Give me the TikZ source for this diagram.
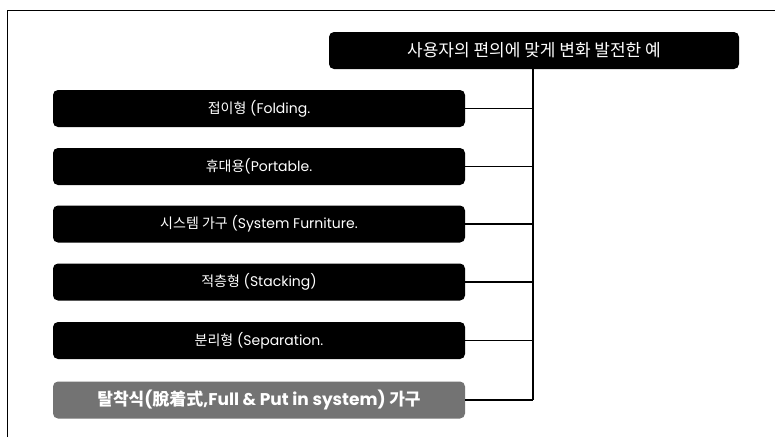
\documentclass[tikz,border=0pt]{standalone}
\usepackage{fontspec}
\setmainfont{Poppins}
\newfontfamily\kr{Noto Sans CJK KR}
\begin{document}
\begin{tikzpicture}[x=1pt,y=-1pt,
  catbox/.style={fill=black, rounded corners=5pt, minimum width=412pt, minimum height=37pt, inner sep=0pt, text=white, font=\fontsize{14}{17}\selectfont},
  topbox/.style={catbox, minimum width=410pt, font=\kr\fontsize{17}{20}\selectfont},
  greybox/.style={catbox, fill=black!55, font=\bfseries\fontsize{17}{20}\selectfont},
  link/.style={line width=1.8pt},
  trunk/.style={line width=2.6pt}]
\useasboundingbox (0,0) rectangle (775,437);
\fill[white] (0,0) rectangle (775,437);
\draw[line width=0.9pt] (7,437) -- (7,10) -- (775,10);
\node[topbox] (top) at (534,50.5) {사용자의 편의에 맞게 변화 발전한 예};
\node[catbox] (b1) at (259,108.5) {{\kr 접이형} (Folding.};
\node[catbox] (b2) at (259,166.5) {{\kr 휴대용}(Portable.};
\node[catbox] (b3) at (259,224) {{\kr 시스템 가구} (System Furniture.};
\node[catbox] (b4) at (259,282) {{\kr 적층형} (Stacking)};
\node[catbox] (b5) at (259,340.5) {{\kr 분리형} (Separation.};
\node[greybox] (b6) at (259,400) {{\kr 탈착식}({\kr 脫着式},Full \& Put in system) {\kr 가구}};
\coordinate (tend) at (533,400);
\draw[trunk] (top.south -| tend) -- (tend);
\foreach \b in {b1,b2,b3,b4,b5,b6}
  \draw[link] (\b.east) -- (\b.east -| tend);
\end{tikzpicture}
\end{document}
